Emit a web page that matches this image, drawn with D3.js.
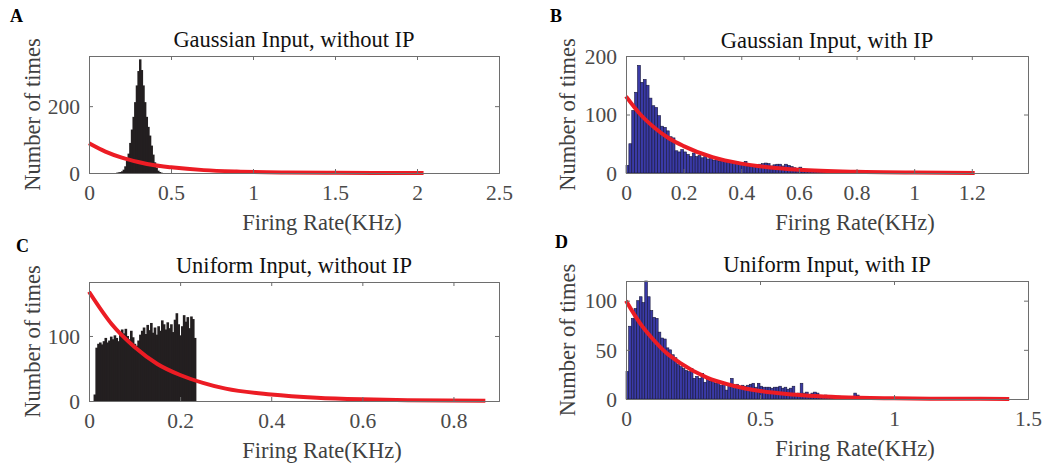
<!doctype html>
<html>
<head>
<meta charset="utf-8" />
<title>Firing rate histograms</title>
<script src="https://cdn.jsdelivr.net/npm/d3@7"></script>
<style>
 body { margin: 0; background: #fff; }
 text { font-family: "Liberation Serif", "Times New Roman", serif; }
</style>
</head>
<body>
<script type="text/javascript">

 // ---- data ----
 var panelNames = ["A", "B", "C", "D"];
 var panelTitles = ["Gaussian Input, without IP", "Gaussian Input, with IP",
                    "Uniform Input, without IP", "Uniform Input, with IP"];

 // histogram A: bins of 0.01 starting at 0.165
 var aBinStart = 0.165, aBinWidth = 0.01;
 var aCounts = [1, 2, 3, 5, 10, 20, 36, 58, 90, 130, 168, 212, 262, 305, 340,
                308, 262, 212, 168, 138, 112, 82, 55, 32, 16, 7, 3, 1];

 // histogram B: bins of 0.01 starting at 0
 var bBinStart = 0, bBinWidth = 0.01;
 var bCounts = [13, 50, 107, 138, 184, 155, 160, 150, 128, 115, 112, 98, 80, 78, 72,
                62, 60, 38, 36, 40, 36, 32, 28, 34, 28, 30, 26, 28, 24, 27,
                22, 24, 20, 22, 20, 18, 21, 17, 19, 15, 16, 20, 12, 14, 11,
                13, 15, 16, 17, 16, 12, 14, 15, 15, 12, 15, 13, 11, 9, 7,
                10, 7, 5, 6, 4, 5, 4, 3, 3, 4, 2, 2, 1, 2, 1, 1, 1];

 // histogram C: bins of 0.004 starting at 0.010
 var cBinStart = 0.010, cBinWidth = 0.004;
 var cCounts = [10, 82, 88, 90, 87, 92, 97, 90, 93, 99, 95, 101, 97, 92, 103,
                110, 104, 111, 100, 95, 108, 98, 88, 85, 93, 102, 108, 113, 103, 117,
                109, 120, 105, 113, 102, 115, 108, 124, 118, 110, 121, 112, 118, 106, 125,
                135, 118, 101, 115, 132, 122, 129, 112, 130, 126, 97];

 // histogram D: bins of 0.01 starting at 0
 var dBinStart = 0, dBinWidth = 0.01;
 var dCounts = [28, 74, 82, 92, 100, 104, 98, 120, 104, 90, 83, 82, 68, 62, 61,
                52, 50, 45, 42, 35, 33, 31, 29, 28, 31, 21, 23, 21, 26, 17,
                20, 18, 18, 16, 19, 14, 16, 9, 16, 21, 14, 15, 12, 14, 13,
                14, 15, 16, 12, 16, 13, 12, 12, 12, 11, 12, 12, 13, 11, 12,
                10, 11, 13, 5, 6, 16, 6, 7, 4, 6, 7, 6, 3, 3, 4,
                2, 2, 3, 2, 3, 2, 1, 2, 1, 1, 6, 4, 2, 1];

 // red fitted curves [rate, count]
 var aFit = [[0, 89], [0.1, 64], [0.2, 46], [0.3, 33], [0.4, 23], [0.5, 17], [0.7, 8.6],
             [0.9, 4.4], [1.2, 1.6], [1.5, 0.6], [1.8, 0.2], [2.04, 0.1]];
 var bFit = [[0, 131], [0.05, 100], [0.1, 77], [0.15, 59], [0.2, 46], [0.3, 27], [0.4, 16],
             [0.5, 9.5], [0.6, 5.6], [0.8, 2], [1.0, 0.7], [1.21, 0.2]];
 var cFit = [[0, 168], [0.05, 118], [0.1, 83], [0.15, 57], [0.2, 40], [0.25, 28], [0.3, 19],
             [0.4, 10], [0.5, 5], [0.6, 2.5], [0.7, 1.2], [0.87, 0.4]];
 var dFit = [[0, 100], [0.05, 78], [0.1, 61], [0.15, 47], [0.2, 37], [0.3, 22], [0.4, 13.5],
             [0.5, 8.2], [0.6, 5], [0.8, 1.8], [1.0, 0.7], [1.2, 0.25], [1.43, 0.1]];

 // axis limits and ticks
 var aXDomain = [0, 2.5], aYDomain = [0, 350];
 var bXDomain = [0, 1.395], bYDomain = [0, 200];
 var cXDomain = [0, 0.9], cYDomain = [0, 183];
 var dXDomain = [0, 1.5], dYDomain = [0, 120];
 var aXTicks = [0, 0.5, 1, 1.5, 2, 2.5], aYTicks = [0, 200];
 var bXTicks = [0, 0.2, 0.4, 0.6, 0.8, 1, 1.2], bYTicks = [0, 100, 200];
 var cXTicks = [0, 0.2, 0.4, 0.6, 0.8], cYTicks = [0, 100];
 var dXTicks = [0, 0.5, 1, 1.5], dYTicks = [0, 50, 100];

 var xLabel = "Firing Rate(KHz)";
 var yLabel = "Number of times";

 // ---- layout ----
 var w = 1053, h = 466;
 var svg = d3.select("body").append("svg")
             .attr("width", w)
             .attr("height", h);

 var panels = [
     {name: panelNames[0], title: panelTitles[0], start: aBinStart, width: aBinWidth, counts: aCounts,
      fit: aFit, xd: aXDomain, yd: aYDomain, xt: aXTicks, yt: aYTicks, solid: true,
      left: 89, right: 499, top: 56, bottom: 173, fill: "#231f20", edge: "#231f20",
      titleY: 47, labelX: 10, labelY: 22, ylabX: 40},
     {name: panelNames[1], title: panelTitles[1], start: bBinStart, width: bBinWidth, counts: bCounts,
      fit: bFit, xd: bXDomain, yd: bYDomain, xt: bXTicks, yt: bYTicks, solid: false,
      left: 626, right: 1028, top: 56, bottom: 173, fill: "#3a3aa6", edge: "#17173a",
      titleY: 48, labelX: 550, labelY: 22, ylabX: 575},
     {name: panelNames[2], title: panelTitles[2], start: cBinStart, width: cBinWidth, counts: cCounts,
      fit: cFit, xd: cXDomain, yd: cYDomain, xt: cXTicks, yt: cYTicks, solid: true,
      left: 89, right: 499, top: 282, bottom: 401, fill: "#231f20", edge: "#231f20",
      titleY: 273, labelX: 16, labelY: 252, ylabX: 40},
     {name: panelNames[3], title: panelTitles[3], start: dBinStart, width: dBinWidth, counts: dCounts,
      fit: dFit, xd: dXDomain, yd: dYDomain, xt: dXTicks, yt: dYTicks, solid: false,
      left: 626, right: 1028, top: 281, bottom: 399, fill: "#3a3aa6", edge: "#17173a",
      titleY: 272, labelX: 555, labelY: 248, ylabX: 575}
 ];

 var draw_panel = function(p){
     var x = d3.scaleLinear().domain(p.xd).range([p.left, p.right]);
     var y = d3.scaleLinear().domain(p.yd).range([p.bottom, p.top]);
     var g = svg.append("g");
     var overlap = p.solid ? 0.8 : 0;

     // bars
     g.selectAll("rect.bar")
      .data(p.counts)
      .enter()
      .append("rect")
      .attr("class", "bar")
      .attr("x", function(d, i){ return x(p.start + i * p.width); })
      .attr("width", function(d, i){ return x(p.start + (i + 1) * p.width) - x(p.start + i * p.width) + overlap; })
      .attr("y", function(d){ return y(d); })
      .attr("height", function(d){ return y(0) - y(d); })
      .attr("fill", p.fill)
      .attr("stroke", p.solid ? "none" : p.edge)
      .attr("stroke-width", 0.6);

     // fitted curve
     var line = d3.line()
                  .x(function(d){ return x(d[0]); })
                  .y(function(d){ return y(d[1]); })
                  .curve(d3.curveMonotoneX);
     g.append("path")
      .datum(p.fit)
      .attr("d", line)
      .attr("fill", "none")
      .attr("stroke", "#ec1c24")
      .attr("stroke-width", 4)
      .attr("stroke-linecap", "butt");

     // box with inward ticks on all sides
     var tl = 4;
     var axB = d3.axisBottom(x).tickValues(p.xt).tickSize(-tl).tickPadding(12).tickFormat(d3.format(""));
     var axT = d3.axisTop(x).tickValues(p.xt).tickSize(-tl).tickFormat("");
     var axL = d3.axisLeft(y).tickValues(p.yt).tickSize(-tl).tickPadding(9);
     var axR = d3.axisRight(y).tickValues(p.yt).tickSize(-tl).tickFormat("");

     var gb = g.append("g").attr("transform", "translate(0," + p.bottom + ")").call(axB);
     var gt = g.append("g").attr("transform", "translate(0," + p.top + ")").call(axT);
     var gl = g.append("g").attr("transform", "translate(" + p.left + ",0)").call(axL);
     var gr = g.append("g").attr("transform", "translate(" + p.right + ",0)").call(axR);

     [gb, gt, gl, gr].forEach(function(a){
         a.selectAll("path.domain").attr("stroke", "#6e6e6e").attr("stroke-width", 1);
         a.selectAll(".tick line").attr("stroke", "#6e6e6e");
         a.selectAll(".tick text")
          .attr("font-family", "Liberation Serif")
          .attr("font-size", 21.5)
          .attr("fill", "#4a4a4a");
     });
     gb.selectAll(".tick text").attr("dy", "0.71em");
     gl.selectAll(".tick text").attr("dy", "0.34em");

     var cx = (p.left + p.right) / 2;
     var cy = (p.top + p.bottom) / 2;

     // title
     svg.append("text")
        .attr("x", cx).attr("y", p.titleY)
        .attr("text-anchor", "middle")
        .attr("font-size", 22.5)
        .attr("fill", "#111")
        .text(p.title);

     // axis labels
     svg.append("text")
        .attr("x", cx + 28).attr("y", p.bottom + 57)
        .attr("text-anchor", "middle")
        .attr("font-size", 22.5)
        .attr("fill", "#404040")
        .text(xLabel);

     svg.append("text")
        .attr("transform", "translate(" + p.ylabX + "," + cy + ") rotate(-90)")
        .attr("text-anchor", "middle")
        .attr("font-size", 22.5)
        .attr("fill", "#404040")
        .text(yLabel);

     // panel letter
     svg.append("text")
        .attr("x", p.labelX).attr("y", p.labelY)
        .attr("font-size", 18)
        .attr("font-weight", "bold")
        .attr("fill", "#000")
        .text(p.name);
 };

 panels.forEach(draw_panel);

</script>
</body>
</html>
